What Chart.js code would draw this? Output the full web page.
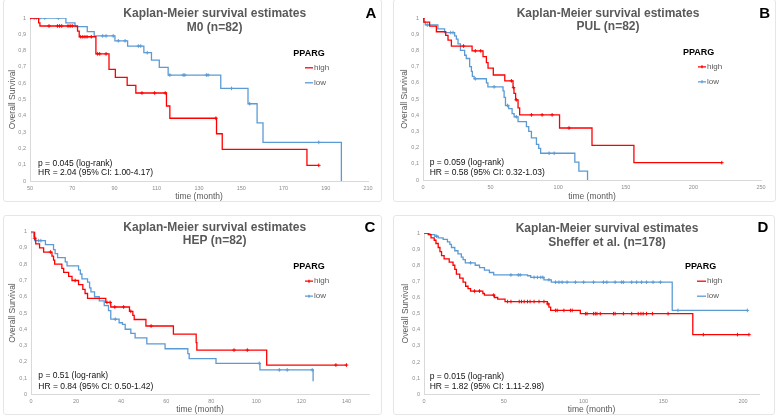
<!DOCTYPE html>
<html>
<head>
<meta charset="utf-8">
<script src="https://cdn.jsdelivr.net/npm/chart.js@4.4.0/dist/chart.umd.min.js"></script>
<style>
body { margin: 0; background: #fff; width: 777px; height: 417px; position: relative; overflow: hidden; }
canvas { position: absolute; }
.box { position: absolute; border: 1px solid #e6e6e6; border-radius: 3px; box-sizing: border-box; pointer-events: none; }
</style>
</head>
<body>
<canvas id="cA" width="379" height="202" style="left:3px;top:0px"></canvas>
<canvas id="cB" width="383" height="202" style="left:393px;top:0px"></canvas>
<canvas id="cC" width="379" height="200" style="left:3px;top:215px"></canvas>
<canvas id="cD" width="382" height="200" style="left:393px;top:215px"></canvas>
<div class="box" style="left:3px;top:-1px;width:379px;height:203px"></div>
<div class="box" style="left:393px;top:-1px;width:383px;height:203px"></div>
<div class="box" style="left:3px;top:215px;width:379px;height:200px"></div>
<div class="box" style="left:393px;top:215px;width:382px;height:200px"></div>
<script>
var RED = '#ff0000', BLUE = '#5b9bd5', GREY = '#595959';
var FONT = '"Liberation Sans", Arial, sans-serif';

// ---- A: M0 (n=82) ----
var aHighT = [50, 54.1, 54.7, 72.5, 73.3, 81.2, 87.4, 90.4, 96, 100.1, 114.6, 116.2, 138.3, 141, 181.1, 186.7];
var aHighS = [1, 0.97, 0.951, 0.92, 0.885, 0.78, 0.685, 0.636, 0.587, 0.54, 0.46, 0.385, 0.29, 0.194, 0.096, 0.096];
var aHighC = [50, 59, 63, 64, 65, 68, 69, 70, 74, 75, 76, 77, 79, 82, 83, 86, 103, 109, 114, 138, 186.7];
var aLowT = [50, 67, 71.3, 77.1, 80.4, 90.2, 96.2, 103.9, 107.5, 111.2, 115.4, 140.3, 153.2, 157.5, 160.3, 197.4];
var aLowS = [1, 0.97, 0.947, 0.916, 0.89, 0.86, 0.828, 0.787, 0.742, 0.697, 0.65, 0.568, 0.474, 0.356, 0.237, 0];
var aLowC = [52, 53, 54.7, 57, 63.4, 84.4, 86, 89.4, 91.8, 95, 101.3, 102.4, 105.5, 116.2, 122.5, 123.3, 133.5, 134.3, 145.4, 154, 186.7];

// ---- B: PUL (n=82) ----
var bHighT = [0, 0.7, 4.9, 9.9, 16.8, 18.5, 21, 36.3, 44.4, 46.9, 48.1, 52, 60.5, 66.6, 67.3, 68.5, 70.3, 71.5, 101, 125, 156, 221];
var bHighS = [1, 0.975, 0.95, 0.915, 0.893, 0.864, 0.827, 0.797, 0.762, 0.725, 0.69, 0.648, 0.612, 0.57, 0.535, 0.495, 0.445, 0.402, 0.321, 0.214, 0.107, 0.107];
var bHighC = [0, 30, 38.7, 42.7, 65.4, 67, 69, 80.2, 88.1, 95.5, 108, 221];
var bLowT = [0, 0.5, 1.7, 11, 16, 23.4, 24.7, 25.9, 27.7, 30.8, 32, 34.5, 35.8, 36.5, 37.8, 46.9, 48, 59.2, 60, 61, 63.4, 65.9, 67.4, 70.3, 76.5, 78.2, 80.2, 83.9, 85.6, 87, 112.3, 115.3, 121.7];
var bLowS = [1, 0.975, 0.957, 0.933, 0.91, 0.89, 0.87, 0.84, 0.8, 0.77, 0.75, 0.7, 0.67, 0.64, 0.625, 0.6, 0.575, 0.55, 0.51, 0.46, 0.44, 0.41, 0.39, 0.36, 0.33, 0.3, 0.26, 0.22, 0.195, 0.165, 0.11, 0.055, 0];
var bLowC = [3.2, 20.5, 22.2, 38.7, 52.6, 62.5, 69, 93.3, 97];

// ---- C: HEP (n=82) ----
var cHighT = [0, 1.6, 2.1, 3.8, 5.6, 9.3, 10, 10.5, 13.7, 14.5, 16.7, 18.2, 21.1, 23, 24, 25.1, 33.2, 35.4, 43.7, 45.2, 45.8, 51, 63.2, 73.3, 73.6, 104.6, 140];
var cHighS = [1, 0.96, 0.925, 0.9, 0.875, 0.85, 0.825, 0.8, 0.775, 0.75, 0.725, 0.7, 0.675, 0.645, 0.62, 0.59, 0.565, 0.537, 0.51, 0.485, 0.46, 0.42, 0.37, 0.318, 0.272, 0.18, 0.18];
var cHighC = [1.6, 8.6, 19.6, 33.7, 35.1, 37.2, 41.1, 44.3, 53.3, 90.1, 96, 135.3, 140];
var cLowT = [0, 1.2, 1.6, 6.4, 10, 10.7, 11.8, 15.2, 16, 21.1, 21.9, 22.6, 25.1, 26, 26.6, 28.2, 30.3, 32.5, 34.4, 35.4, 39.1, 40.6, 41.8, 44.3, 46.2, 51.4, 59.5, 69.6, 70.2, 82.1, 101.6, 125.2];
var cLowS = [1, 0.97, 0.945, 0.92, 0.89, 0.865, 0.84, 0.815, 0.79, 0.765, 0.74, 0.71, 0.69, 0.655, 0.63, 0.6, 0.575, 0.545, 0.515, 0.462, 0.44, 0.43, 0.4, 0.375, 0.347, 0.31, 0.28, 0.25, 0.22, 0.19, 0.15, 0.08];
var cLowC = [0, 0.9, 3.4, 4.4, 37.4, 101.3, 110.2, 113.7, 124.8];

// ---- D: Sheffer et al. (n=178) ----
var dHighT = [0, 2.7, 4.4, 6.4, 7.5, 8.9, 10, 11, 12.6, 15.8, 18.2, 19.3, 20.3, 22.4, 24.5, 26.1, 27.6, 29.2, 36.9, 37.9, 44.1, 46.2, 50.8, 77.3, 78.3, 79.4, 98, 168.5, 203.7];
var dHighS = [1, 0.99, 0.97, 0.955, 0.935, 0.91, 0.885, 0.86, 0.84, 0.82, 0.8, 0.775, 0.745, 0.72, 0.695, 0.67, 0.655, 0.64, 0.625, 0.615, 0.6, 0.59, 0.575, 0.56, 0.54, 0.52, 0.5, 0.37, 0.37];
var dHighC = [31.7, 34.8, 43.7, 52.4, 54.5, 59.7, 61.1, 62.8, 64.9, 66.5, 69, 72.1, 75.2, 77.7, 82.5, 83.5, 87.7, 91.8, 92.9, 101.3, 102.2, 106.3, 107.4, 108.4, 110.5, 118.8, 119.8, 125, 130.2, 134.3, 136, 137.4, 139.5, 143.2, 153, 175.1, 196.5, 203.7];
var dLowT = [0, 3.7, 6.8, 8.9, 12, 14.7, 16.2, 17.2, 19.3, 21.3, 23.4, 24.5, 25.9, 32.1, 34.8, 37.9, 41, 43.7, 64.9, 66.9, 75.2, 79.8, 155.6, 202.7];
var dLowS = [1, 0.99, 0.98, 0.97, 0.96, 0.945, 0.93, 0.91, 0.89, 0.87, 0.85, 0.835, 0.815, 0.8, 0.785, 0.77, 0.755, 0.74, 0.735, 0.725, 0.71, 0.695, 0.52, 0.52];
var dLowC = [2.7, 7.9, 29.2, 54.5, 59.1, 60.3, 69, 71.1, 73.2, 74.5, 78.3, 82.5, 84.6, 86.6, 89.7, 94.9, 100.1, 106.3, 112.5, 114.6, 119.8, 123.9, 125, 130.2, 133.3, 136.4, 139.5, 143.6, 148.2, 159.2, 202.7];

function survAt(T, S, t) {
  var s = S[0];
  for (var i = 0; i < T.length; i++) if (T[i] <= t) s = S[i];
  return s;
}

function kmSets(T, S, C, color) {
  return [{
    data: T.map(function (t, i) { return { x: t, y: S[i] }; }),
    stepped: 'before', borderColor: color, borderWidth: 1.3, pointRadius: 0, fill: false
  }, {
    data: C.map(function (t) { return { x: t, y: survAt(T, S, t) }; }),
    showLine: false, pointStyle: 'cross', pointRadius: 1.8, borderColor: color, borderWidth: 1
  }];
}

// titles, letter, legend and statistics drawn on top of each chart
var kmText = {
  id: 'kmText',
  afterDraw: function (chart, args, o) {
    var ctx = chart.ctx;
    ctx.save();
    ctx.textBaseline = 'middle';
    ctx.textAlign = 'center';
    ctx.fillStyle = GREY;
    ctx.font = 'bold 12px ' + FONT;
    ctx.fillText(o.title[0], o.titleX, o.titleY[0]);
    ctx.fillText(o.title[1], o.titleX, o.titleY[1]);
    ctx.fillStyle = '#000';
    ctx.font = 'bold 15px ' + FONT;
    ctx.fillText(o.letter, o.letterPos[0], o.letterPos[1]);
    ctx.font = 'bold 9px ' + FONT;
    ctx.fillText('PPARG', o.legX, o.legY);
    var rows = [['high', RED, o.legY + 14.5], ['low', BLUE, o.legY + 29.5]];
    ctx.textAlign = 'left';
    ctx.font = '8px ' + FONT;
    rows.forEach(function (r) {
      ctx.strokeStyle = r[1];
      ctx.lineWidth = 1.3;
      ctx.beginPath();
      ctx.moveTo(o.lineX[0], r[2]);
      ctx.lineTo(o.lineX[1], r[2]);
      if (o.legMark) {
        var m = (o.lineX[0] + o.lineX[1]) / 2;
        ctx.moveTo(m, r[2] - 1.5);
        ctx.lineTo(m, r[2] + 1.5);
      }
      ctx.stroke();
      ctx.fillStyle = GREY;
      ctx.fillText(r[0], o.lineX[1] + 1, r[2]);
    });
    ctx.fillStyle = '#111';
    ctx.font = '8.5px ' + FONT;
    ctx.fillText(o.stats[0], o.statX, o.statY[0]);
    ctx.fillText(o.stats[1], o.statX, o.statY[1]);
    ctx.restore();
  }
};

function yLabel(v) {
  var r = Math.round(v * 10) / 10;
  return String(r).replace('.', ',');
}

function makeKM(p) {
  var step = p.step;
  new Chart(document.getElementById(p.id), {
    type: 'line',
    data: { datasets: kmSets(p.hi[0], p.hi[1], p.hi[2], RED).concat(kmSets(p.lo[0], p.lo[1], p.lo[2], BLUE)) },
    plugins: [kmText],
    options: {
      responsive: false,
      animation: false,
      layout: { padding: { left: 0, top: p.top, right: p.right, bottom: 0 } },
      plugins: { legend: { display: false }, tooltip: { enabled: false }, kmText: p.text },
      scales: {
        x: {
          type: 'linear', min: p.xmin, max: p.xmax,
          grid: { display: false, drawTicks: false },
          border: { display: true, color: '#d9d9d9', width: 1 },
          ticks: {
            stepSize: step, autoSkip: false, maxRotation: 0, padding: 3.7,
            color: '#8c8c8c', font: { size: 5.5, family: FONT },
            callback: function (v) { return (v - p.xmin) % step === 0 ? String(v) : ''; }
          },
          title: { display: true, text: 'time (month)', color: GREY, font: { size: 8.5, family: FONT }, padding: { top: 0, bottom: 0 } },
          afterFit: function (s) { s.height = p.xh; }
        },
        y: {
          min: 0, max: 1,
          grid: { display: false, drawTicks: false },
          border: { display: true, color: '#d9d9d9', width: 1 },
          ticks: {
            stepSize: 0.1, autoSkip: false, padding: 4,
            color: '#8c8c8c', font: { size: 5.5, family: FONT },
            callback: yLabel
          },
          title: { display: true, text: 'Overall Survival', color: GREY, font: { size: 8.5, family: FONT }, padding: { top: p.ytPad, bottom: 0 } },
          afterFit: function (s) { s.width = p.left; }
        }
      }
    }
  });
}

makeKM({
  id: 'cA', xmin: 50, xmax: 210, step: 20, left: 27, right: 14, top: 18, xh: 21, ytPad: 4.6,
  hi: [aHighT, aHighS, aHighC], lo: [aLowT, aLowS, aLowC],
  text: {
    title: ['Kaplan-Meier survival estimates', 'M0 (n=82)'], titleX: 211.7, titleY: [14, 27.3],
    letter: 'A', letterPos: [368, 13.5], legX: 306, legY: 53.3, lineX: [302, 310], legMark: false,
    stats: ['p = 0.045 (log-rank)', 'HR = 2.04 (95% CI: 1.00-4.17)'], statX: 35, statY: [163.3, 172.3]
  }
});
makeKM({
  id: 'cB', xmin: 0, xmax: 250, step: 50, left: 30, right: 15, top: 18, xh: 22, ytPad: 6.6,
  hi: [bHighT, bHighS, bHighC], lo: [bLowT, bLowS, bLowC],
  text: {
    title: ['Kaplan-Meier survival estimates', 'PUL (n=82)'], titleX: 215, titleY: [14, 27],
    letter: 'B', letterPos: [371.7, 13.5], legX: 305.7, legY: 52.3, lineX: [305, 313], legMark: true,
    stats: ['p = 0.059 (log-rank)', 'HR = 0.58 (95% CI: 0.32-1.03)'], statX: 36.7, statY: [162.3, 172.3]
  }
});
makeKM({
  id: 'cC', xmin: 0, xmax: 150, step: 20, left: 28, right: 13, top: 16.7, xh: 20.7, ytPad: 4.6,
  hi: [cHighT, cHighS, cHighC], lo: [cLowT, cLowS, cLowC],
  text: {
    title: ['Kaplan-Meier survival estimates', 'HEP (n=82)'], titleX: 211.7, titleY: [12.7, 26],
    letter: 'C', letterPos: [367, 12.9], legX: 306, legY: 51.7, lineX: [302, 310], legMark: true,
    stats: ['p = 0.51 (log-rank)', 'HR = 0.84 (95% CI: 0.50-1.42)'], statX: 35.3, statY: [161, 171.7]
  }
});
makeKM({
  id: 'cD', xmin: 0, xmax: 210, step: 50, left: 31, right: 16, top: 18, xh: 20.7, ytPad: 7.2,
  hi: [dHighT, dHighS, dHighC], lo: [dLowT, dLowS, dLowC],
  text: {
    title: ['Kaplan-Meier survival estimates', 'Sheffer et al. (n=178)'], titleX: 214, titleY: [13.3, 27.3],
    letter: 'D', letterPos: [370, 12.9], legX: 307.7, legY: 51.7, lineX: [304, 313], legMark: false,
    stats: ['p = 0.015 (log-rank)', 'HR = 1.82 (95% CI: 1.11-2.98)'], statX: 36.7, statY: [161.7, 171.7]
  }
});
</script>
</body>
</html>
